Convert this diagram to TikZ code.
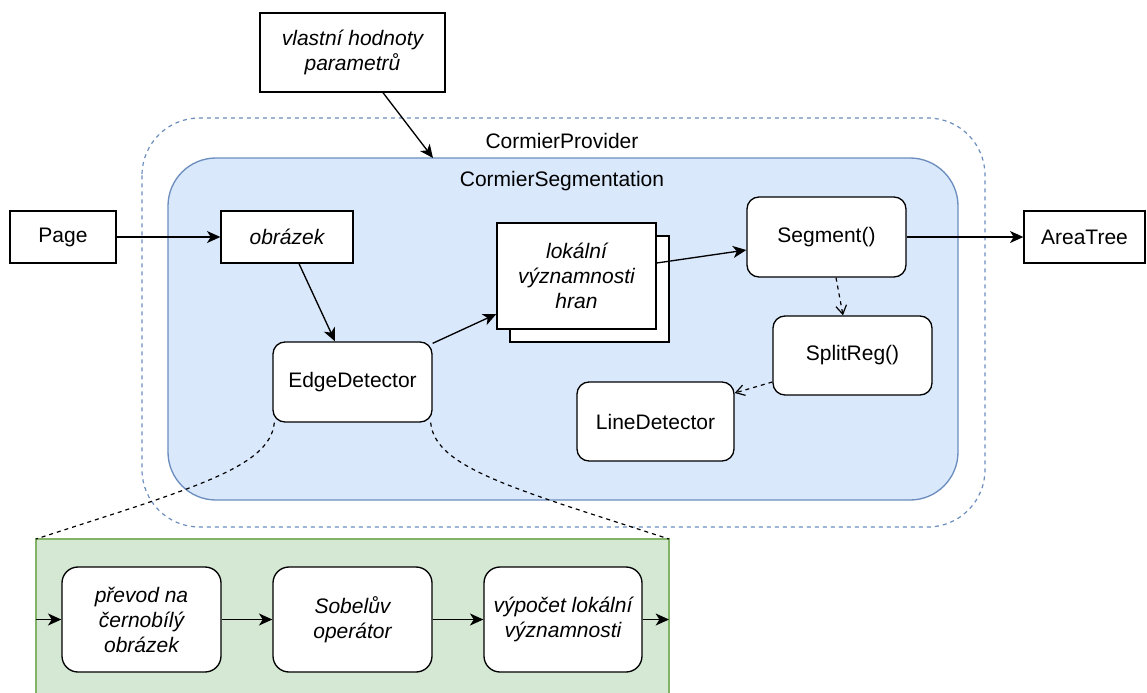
\documentclass[tikz,border=0pt]{standalone}
\usepackage{fontspec}
\setmainfont{Liberation Sans}
\usetikzlibrary{arrows.meta,calc}
\definecolor{bluefill}{HTML}{DAE8FC}
\definecolor{bluedraw}{HTML}{6C8EBF}
\definecolor{greenfill}{HTML}{D5E8D4}
\definecolor{greendraw}{HTML}{82B366}
\tikzset{
  x=0.75pt, y=-0.75pt,
  every node/.style={font=\fontsize{15.75}{18.75}\selectfont, align=center},
  plainbox/.style={draw=black, fill=white, line width=1pt, inner sep=0pt},
  rbox/.style={plainbox, rounded corners=9pt},
  gbox/.style={plainbox, rounded corners=12pt},
  arr/.style={line width=1pt, -{Stealth[length=10pt,width=9pt,inset=2.8pt]}},
  darr/.style={line width=0.9pt, dash pattern=on 3pt off 3pt, -{Straight Barb[length=6.5pt,width=8pt]}},
  dline/.style={line width=0.9pt, dash pattern=on 3pt off 3pt},
}
\begin{document}
\begin{tikzpicture}
\useasboundingbox (0,0) rectangle (1147,693);
\clip (0,0) rectangle (1147,693);
\fill[white] (0,0) rectangle (1147,693);

% containers
\draw[bluedraw, line width=0.9pt, dash pattern=on 3pt off 3pt, rounded corners=43pt]
  (142,118) rectangle (985,527);
\draw[bluedraw, fill=bluefill, line width=1pt, rounded corners=36pt]
  (168,158) rectangle (958,500);
\node (provlabel) at (562,141) {CormierProvider};
\node (seglabel) at (562,181) {CormierSegmentation};
\coordinate (segtop) at (433,158);

% green sub-box
\draw[greendraw, fill=greenfill, line width=1pt] (36,539) rectangle (669,720);
\coordinate (gtl) at (36,539);
\coordinate (gtr) at (669,539);
\coordinate (gin) at (36,619.5);
\coordinate (gout) at (669,619.5);

% nodes
\node[plainbox, minimum width=138.75pt, minimum height=59.25pt] (vlastni) at (352.5,52.5) {\itshape vlastní hodnoty\\\itshape parametrů};
\node[plainbox, minimum width=79.5pt, minimum height=39pt] (page) at (63,237) {Page};
\node[plainbox, minimum width=99pt, minimum height=39pt] (obr) at (287,237) {\itshape obrázek};
\node[plainbox, minimum width=90.75pt, minimum height=39pt] (area) at (1084.5,237) {AreaTree};
\node[plainbox, minimum width=119.25pt, minimum height=79.5pt] (lokb) at (589.5,289) {};
\node[plainbox, minimum width=119.25pt, minimum height=79.5pt] (lokf) at (576.5,276) {\itshape lokální\\\itshape významnosti\\\itshape hran};
\node[rbox, minimum width=119.25pt, minimum height=60pt] (segment) at (826.5,237) {Segment()};
\node[rbox, minimum width=119.25pt, minimum height=59.25pt] (split) at (852.5,355.5) {SplitReg()};
\node[rbox, minimum width=117.75pt, minimum height=59.25pt] (linedet) at (655.5,421.5) {LineDetector};
\node[rbox, minimum width=119.25pt, minimum height=60pt] (edge) at (352.5,382) {EdgeDetector};

\node[gbox, minimum width=119.25pt, minimum height=78.75pt] (g1) at (141.5,619.5) {\itshape převod na\\\itshape černobílý\\\itshape obrázek};
\node[gbox, minimum width=119.25pt, minimum height=78.75pt] (g2) at (352.5,619.5) {\itshape Sobelův\\\itshape operátor};
\node[gbox, minimum width=118.5pt, minimum height=78.75pt] (g3) at (563,619.5) {\itshape výpočet lokální\\\itshape významnosti};

% connectors
\draw[arr] (page.east) -- (obr.west);
\draw[arr] ($(vlastni.south)+(30.5,0)$) -- (segtop);
\draw[arr] ($(obr.south)+(12,0)$) -- ($(edge.north)+(-17.5,0)$);
\draw[arr] ($(edge.north east)+(0,2)$) -- ($(lokf.west)+(0,38)$);
\draw[arr] ($(lokf.east)+(0,-13)$) -- ($(segment.west)+(0,13)$);
\draw[arr] (segment.east) -- (area.west);
\draw[darr] ($(segment.south)+(9.5,0)$) -- ($(split.north)+(-9.5,0)$);
\draw[darr] ($(split.west)+(0,26.5)$) -- ($(linedet.east)+(0,-28.5)$);

\draw[dline] ($(edge.south west)+(2,0)$) .. controls (270,468) and (190,489) .. (gtl);
\draw[dline] ($(edge.south east)+(-2,0)$) .. controls (435,468) and (515,489) .. (gtr);

\draw[arr] (gin) -- (g1.west);
\draw[arr] (g1.east) -- (g2.west);
\draw[arr] (g2.east) -- (g3.west);
\draw[arr] (g3.east) -- (gout);
\end{tikzpicture}
\end{document}
